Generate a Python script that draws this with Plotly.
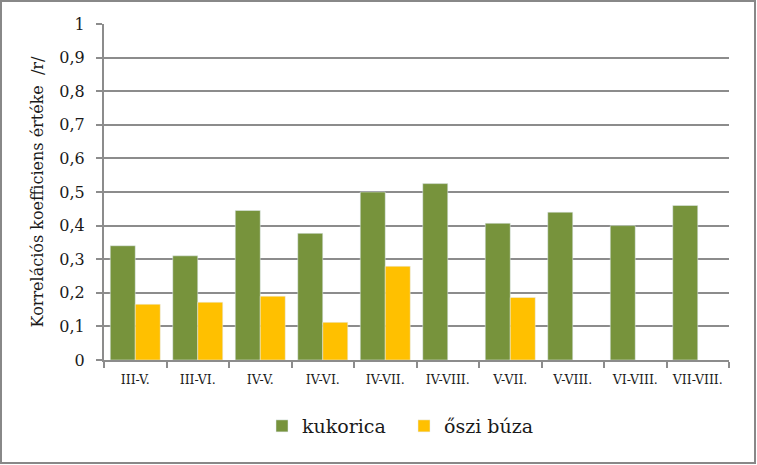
import plotly.graph_objects as go

# periods (months, roman numerals)
categories = ["III-V.", "III-VI.", "IV-V.", "IV-VI.", "IV-VII.", "IV-VIII.",
              "V-VII.", "V-VIII.", "VI-VIII.", "VII-VIII."]
kukorica = [0.34, 0.31, 0.445, 0.377, 0.50, 0.525, 0.407, 0.44, 0.40, 0.46]
oszi_buza = [0.166, 0.172, 0.19, 0.112, 0.279, None, 0.186, None, None, None]
y_ticks = [0, 0.1, 0.2, 0.3, 0.4, 0.5, 0.6, 0.7, 0.8, 0.9, 1]
y_tick_labels = ["0", "0,1", "0,2", "0,3", "0,4", "0,5", "0,6", "0,7", "0,8", "0,9", "1"]

W, H = 757, 465
ml, mr, mt, mb = 104, 28, 24, 105
pw, ph = W - ml - mr, H - mt - mb

font = "DejaVu Serif"
grid = "#8c8c8c"

fig = go.Figure()
fig.add_trace(go.Bar(x=categories, y=kukorica, name="kukorica", marker_color="#77933C"))
fig.add_trace(go.Bar(x=categories, y=oszi_buza, name="őszi búza", marker_color="#FFC000"))

fig.update_layout(
    width=W, height=H,
    margin=dict(l=ml, r=mr, t=mt, b=mb),
    paper_bgcolor="white", plot_bgcolor="white",
    font=dict(family=font, color="#1a1a1a"),
    barmode="group", bargap=0.2, bargroupgap=0,
    showlegend=True,
    legend=dict(orientation="h", x=0.48, xanchor="center", y=-0.14, yanchor="top",
                font=dict(family=font, size=19), itemwidth=30, entrywidth=97,
                traceorder="normal"),
    xaxis=dict(type="category", showline=True, linecolor=grid, linewidth=2,
               ticks="outside", tickson="boundaries", tickcolor=grid, ticklen=6, tickwidth=2,
               tickangle=0, tickfont=dict(family=font, size=12.5), ticklabelstandoff=7,
               showgrid=False),
    yaxis=dict(range=[0, 1], tickvals=y_ticks, ticktext=y_tick_labels,
               showline=True, linecolor=grid, linewidth=2,
               ticks="outside", tickcolor=grid, ticklen=6, tickwidth=2,
               showgrid=True, gridcolor=grid, gridwidth=2, zeroline=False,
               tickfont=dict(family=font, size=16), ticklabelstandoff=8,
               title=dict(text="Korrelációs koefficiens értéke  /r/",
                          font=dict(family=font, size=16), standoff=12)),
    shapes=[dict(type="rect", xref="paper", yref="paper",
                 x0=(1 - ml) / pw, x1=(W - 2 - ml) / pw,
                 y0=(mt + ph - (H - 2)) / ph, y1=(mt + ph - 1) / ph,
                 line=dict(color="#888888", width=2), layer="below")],
)

fig.write_html("out.html", config={"displayModeBar": False},
               post_script="document.body.style.margin='0';")
